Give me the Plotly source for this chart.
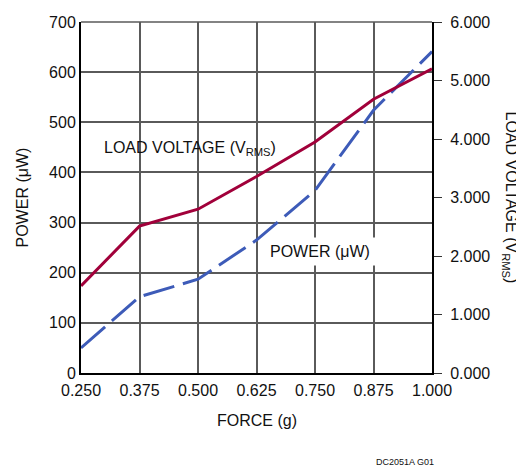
import plotly.graph_objects as go

force = [0.250, 0.375, 0.500, 0.625, 0.750, 0.875, 1.000]
power_uw = [50, 152, 187, 265, 364, 524, 641]
load_voltage = [1.49, 2.51, 2.80, 3.36, 3.95, 4.68, 5.20]
x_ticks = [0.250, 0.375, 0.500, 0.625, 0.750, 0.875, 1.000]

FONT = "Liberation Sans Narrow, Arial Narrow, Liberation Sans, Arial"
RED = "#A1003A"
BLUE = "#3D5BB8"
GRID = "#5a5a5a"

OFF = 8  # page body margin
W, H = 524 - OFF, 468 - OFF
L, T = 81 - OFF, 22 - OFF
R, B = 92, 95
plot_w = W - L - R
plot_h = H - T - B


def px(x):
    return (x - OFF - L) / plot_w


def py(y):
    return (H - B - (y - OFF)) / plot_h


fig = go.Figure()
fig.add_trace(go.Scatter(x=force, y=load_voltage, mode="lines", yaxis="y2",
                         line=dict(color=RED, width=3), showlegend=False))
fig.add_trace(go.Scatter(x=force, y=power_uw, mode="lines", yaxis="y",
                         line=dict(color=BLUE, width=3, dash="32px,9px"), showlegend=False))

fig.update_layout(
    width=W, height=H,
    margin=dict(l=L, r=R, t=T, b=B, autoexpand=False),
    paper_bgcolor="white", plot_bgcolor="white",
    font=dict(family=FONT, size=16, color="#111"),
    xaxis=dict(range=[0.25, 1.0], tickvals=x_ticks, tickformat=".3f",
               showgrid=True, gridcolor=GRID, gridwidth=1.5, automargin=False,
               showline=True, linecolor="black", linewidth=2, mirror=False,
               ticks="", zeroline=False, tickfont=dict(size=16), ticklabelstandoff=2),
    yaxis=dict(range=[0, 700], dtick=100, showgrid=True, gridcolor=GRID, gridwidth=1.5,
               showline=True, linecolor="black", linewidth=2, ticks="", automargin=False,
               zeroline=False, tickfont=dict(size=16)),
    yaxis2=dict(range=[0, 6], dtick=1, tickformat=".3f", overlaying="y", side="right",
                showgrid=False, showline=True, linecolor="black", linewidth=2,
                ticks="outside", ticklen=8, tickcolor="#333", zeroline=False,
                automargin=False, tickfont=dict(size=16), ticklabelstandoff=5),
    shapes=[dict(type="line", xref="paper", yref="paper", x0=0, x1=1, y0=1, y1=1,
                 line=dict(color=GRID, width=1.5))],
    annotations=[
        dict(text="LOAD VOLTAGE (V<sub>RMS</sub>)", x=px(190), y=py(148), xref="paper", yref="paper",
             xanchor="center", yanchor="middle", showarrow=False, font=dict(size=16)),
        dict(text="POWER (μW)", x=px(320), y=py(251), xref="paper", yref="paper",
             xanchor="center", yanchor="middle", showarrow=False, font=dict(size=16),
             bgcolor="white", borderpad=5),
        dict(text="POWER (μW)", x=px(22), y=0.5, xref="paper", yref="paper",
             textangle=-90, showarrow=False, font=dict(size=16),
             xanchor="center", yanchor="middle"),
        dict(text="LOAD VOLTAGE (V<sub>RMS</sub>)", x=px(510), y=0.5, xref="paper", yref="paper",
             textangle=90, showarrow=False, font=dict(size=16),
             xanchor="center", yanchor="middle"),
        dict(text="FORCE (g)", x=0.5, y=py(420), xref="paper", yref="paper",
             showarrow=False, font=dict(size=16), xanchor="center", yanchor="middle"),
        dict(text="DC2051A G01", x=px(405), y=py(462), xref="paper", yref="paper",
             showarrow=False, font=dict(size=9), xanchor="center", yanchor="middle"),
    ],
)

fig.write_html("out.html")
